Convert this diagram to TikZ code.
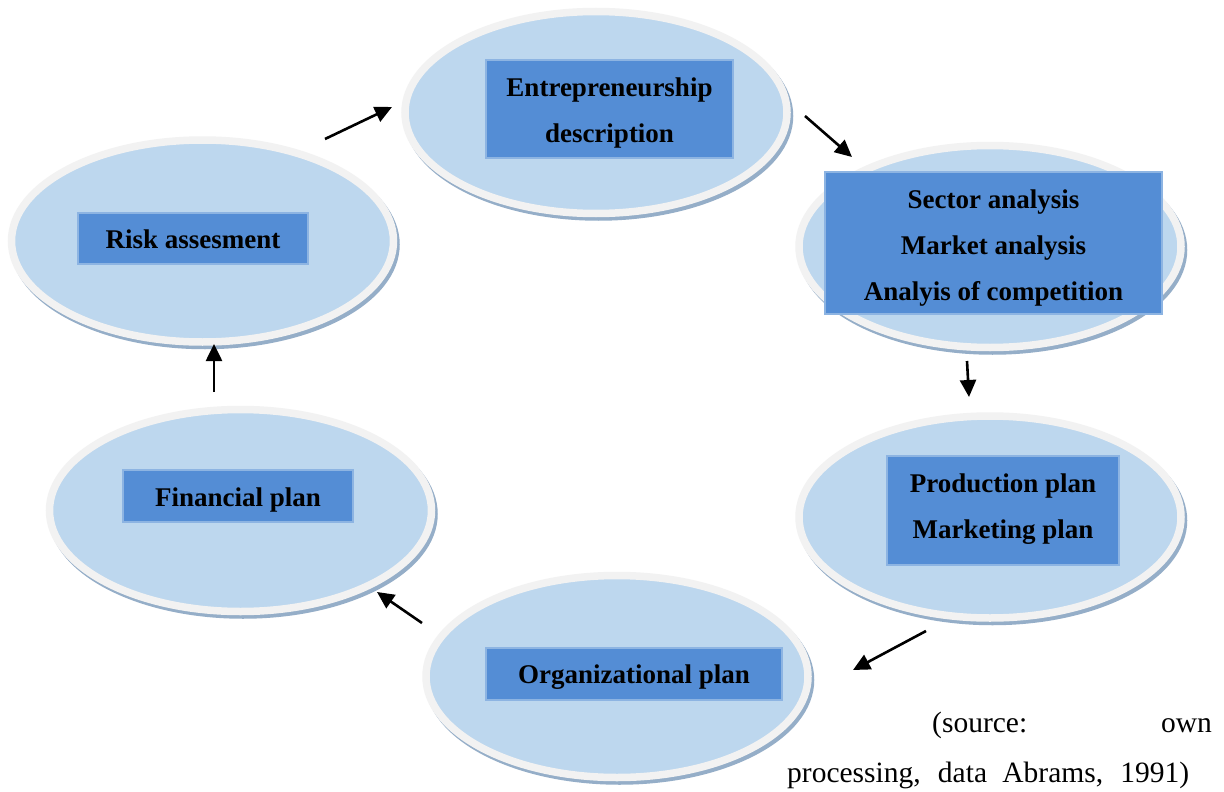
\documentclass[tikz,border=0pt]{standalone}
\usepackage{fontspec}
\setmainfont{Liberation Serif}
\usetikzlibrary{shapes.geometric,arrows.meta,calc}
\definecolor{ringcol}{HTML}{F2F2F2}
\definecolor{innercol}{HTML}{BDD7EE}
\definecolor{shadowcol}{HTML}{95AEC8}
\definecolor{boxcol}{HTML}{548DD5}
\definecolor{boxborder}{HTML}{8DB4E2}
\tikzset{
  oval/.style={ellipse, minimum width=382pt, minimum height=202pt, inner sep=0pt,
    fill=innercol, draw=ringcol, line width=7.5pt,
    preaction={draw=shadowcol, fill=shadowcol, line width=7.5pt,
      transform canvas={xshift=2.5pt,yshift=-3.5pt}}},
  stepbox/.style={rectangle, fill=boxcol, draw=boxborder, line width=1.5pt,
    inner sep=0pt},
  boxtext/.style={inner sep=0pt, align=center,
    font=\fontsize{27pt}{46pt}\selectfont\bfseries},
  flow/.style={line width=2.6pt, -{Triangle[length=17pt,width=16pt]}},
  srctext/.style={inner sep=0pt, font=\fontsize{29.5pt}{34pt}\selectfont}
}
\begin{document}
\begin{tikzpicture}[x=1pt,y=-1pt]
\useasboundingbox[fill=white] (0,0) rectangle (1224,792);

% ovals
\node[oval] (eO) at (596,112.5) {};
\node[oval] (sO) at (990,246.5) {};
\node[oval] (pO) at (990,517) {};
\node[oval] (oO) at (617,676.5) {};
\node[oval] (fO) at (240.5,510.5) {};
\node[oval] (rO) at (202.5,241) {};

% boxes
\node[stepbox, minimum width=247pt, minimum height=98pt] (eB) at (609.5,109) {};
\node[stepbox, minimum width=337pt, minimum height=142pt] (sB) at (993.5,243) {};
\node[stepbox, minimum width=232pt, minimum height=109pt] (pB) at (1003,510.5) {};
\node[stepbox, minimum width=296pt, minimum height=52pt] (oB) at (634,674) {};
\node[stepbox, minimum width=230pt, minimum height=52pt] (fB) at (238,496) {};
\node[stepbox, minimum width=230pt, minimum height=51pt] (rB) at (193,238.5) {};

% box texts
\node[boxtext] (eT) at ($(eB.center)+(0,4)$) {Entrepreneurship\\description};
\node[boxtext] (sT) at ($(sB.center)+(0,5)$) {Sector analysis\\Market analysis\\Analyis of competition};
\node[boxtext] (pT) at ($(pB.center)+(0,-1.5)$) {Production plan\\Marketing plan};
\node[boxtext] (oT) at ($(oB.center)+(0,3.5)$) {Organizational plan};
\node[boxtext] (fT) at ($(fB.center)+(0,4)$) {Financial plan};
\node[boxtext] (rT) at ($(rB.center)+(0,1)$) {Risk assesment};

% arrow ends
\coordinate (a1s) at (325,139);  \coordinate (a1e) at (392,107);
\coordinate (a2s) at (805,116);  \coordinate (a2e) at (852,157);
\coordinate (a3s) at (967,361);  \coordinate (a3e) at (969,397);
\coordinate (a4s) at (926,631);  \coordinate (a4e) at (853,670);
\coordinate (a5s) at (422,623);  \coordinate (a5e) at (377,592);
\coordinate (a6s) at (214,392);  \coordinate (a6e) at (214,344);

\draw[flow] (a1s) -- (a1e);
\draw[flow] (a2s) -- (a2e);
\draw[flow] (a3s) -- (a3e);
\draw[flow] (a4s) -- (a4e);
\draw[flow] (a5s) -- (a5e);
\draw[flow] (a6s) -- (a6e);

% source
\node[srctext, anchor=base west] (src1) at (932,732) {(source:};
\node[srctext, anchor=base east] (src2) at (1212,732) {own};
\node[srctext, anchor=base west] (src3) at (787,782) {\makebox[402pt][s]{processing, data Abrams, 1991)}};
\end{tikzpicture}
\end{document}
